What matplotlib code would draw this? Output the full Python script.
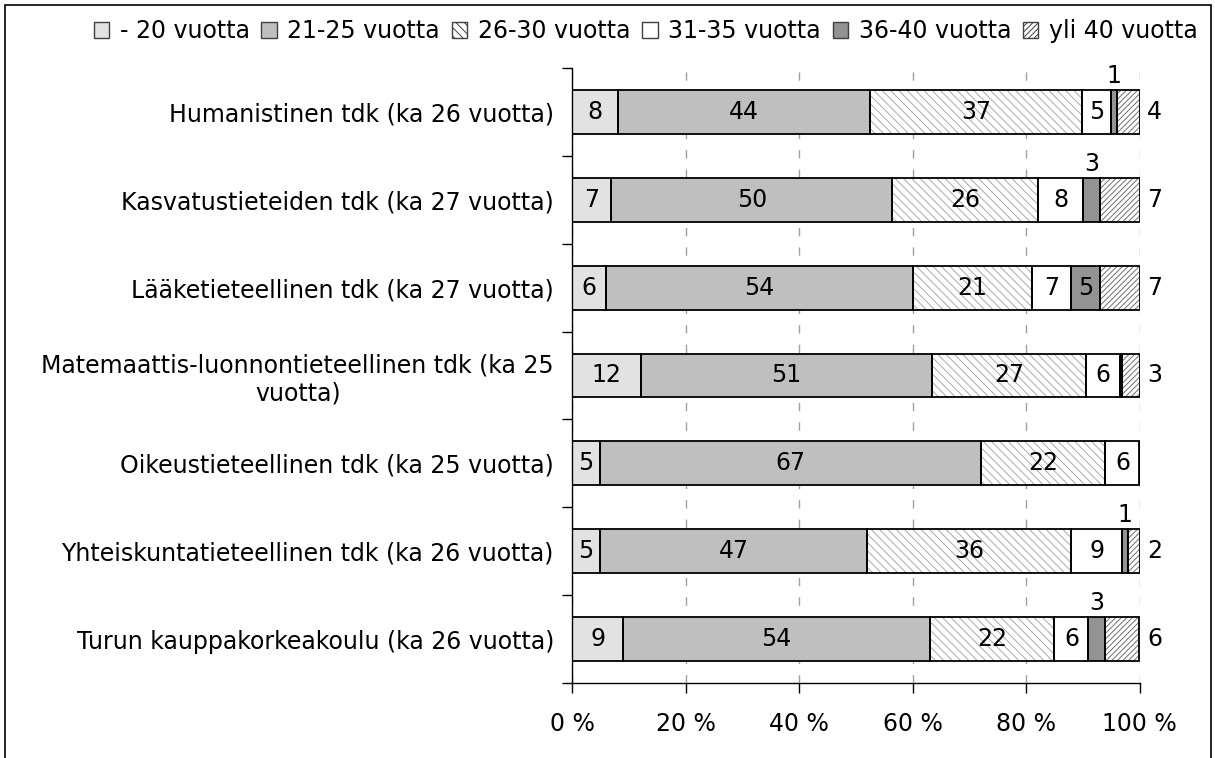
import matplotlib
matplotlib.use("Agg")
import matplotlib.pyplot as plt
from matplotlib.patches import Patch, Rectangle
import numpy as np

categories = [
    "Humanistinen tdk (ka 26 vuotta)",
    "Kasvatustieteiden tdk (ka 27 vuotta)",
    "Lääketieteellinen tdk (ka 27 vuotta)",
    "Matemaattis-luonnontieteellinen tdk (ka 25\nvuotta)",
    "Oikeustieteellinen tdk (ka 25 vuotta)",
    "Yhteiskuntatieteellinen tdk (ka 26 vuotta)",
    "Turun kauppakorkeakoulu (ka 26 vuotta)",
]
series_names = ["- 20 vuotta", "21-25 vuotta", "26-30 vuotta",
                "31-35 vuotta", "36-40 vuotta", "yli 40 vuotta"]

v_20 = [8, 7, 6, 12, 5, 5, 9]
v_21_25 = [44, 50, 54, 51, 67, 47, 54]
v_26_30 = [37, 26, 21, 27, 22, 36, 22]
v_31_35 = [5, 8, 7, 6, 6, 9, 6]
v_36_40 = [1, 3, 5, 0.4, 0, 1, 3]
v_yli40 = [4, 7, 7, 3, 0, 2, 6]

x_ticks = [0, 20, 40, 60, 80, 100]
x_ticklabels = ["0 %", "20 %", "40 %", "60 %", "80 %", "100 %"]

# styles: facecolor, hatch, hatch colour
styles = [
    ("#e2e2e2", None, None),
    ("#bfbfbf", None, None),
    ("white", "\\\\\\\\", "#a8a8a8"),
    ("white", None, None),
    ("#939393", None, None),
    ("white", "//////", "#6e6e6e"),
]

plt.rcParams["font.family"] = "DejaVu Sans"
plt.rcParams["hatch.linewidth"] = 0.7
FS = 17

data = np.array([v_20, v_21_25, v_26_30, v_31_35, v_36_40, v_yli40], dtype=float)
pct = data / data.sum(axis=0) * 100

fig = plt.figure(figsize=(12.15, 7.58), dpi=100)
ax = fig.add_axes([572 / 1215, 1 - 683 / 758, 567.5 / 1215, (683 - 68) / 758])

y = np.arange(len(categories))
left = np.zeros(len(categories))
for k in range(len(series_names)):
    fc, hatch, hc = styles[k]
    ax.barh(y, pct[k], left=left, height=0.5, color=fc,
            edgecolor=hc if hatch else fc, hatch=hatch, linewidth=0, zorder=2)
    ax.barh(y, pct[k], left=left, height=0.5, fill=False,
            edgecolor="black", linewidth=1.3, zorder=3)
    for i in range(len(categories)):
        w = pct[k][i]
        lab = int(round(data[k][i]))
        if lab < 1:
            continue
        if k == len(series_names) - 1:
            ax.text(101.3, i, str(lab), ha="left", va="center", fontsize=FS, zorder=4)
        elif w < 4:
            ax.text(left[i] + w / 2, i - 0.27, str(lab), ha="center", va="bottom",
                    fontsize=FS, zorder=4)
        else:
            ax.text(left[i] + w / 2, i, str(lab), ha="center", va="center",
                    fontsize=FS, zorder=4)
    left += pct[k]

ax.set_xlim(0, 100)
ax.set_ylim(len(categories) - 0.5, -0.5)
ax.set_xticks(x_ticks)
ax.set_xticklabels(x_ticklabels, fontsize=FS)
ax.set_yticks(y)
ax.set_yticklabels(categories, fontsize=FS, multialignment="center")
ax.set_yticks(np.arange(-0.5, len(categories), 1), minor=True)
ax.tick_params(axis="y", which="major", length=0, pad=13)
ax.tick_params(axis="y", which="minor", length=7, width=1, direction="out")
ax.tick_params(axis="x", length=7, width=1, pad=14)
for s in ["top", "right"]:
    ax.spines[s].set_visible(False)
for s in ["left", "bottom"]:
    ax.spines[s].set_linewidth(1)
ax.grid(axis="x", color="#a0a0a0", linestyle=(0, (6, 8)), linewidth=1, zorder=0)
ax.set_axisbelow(True)

handles = [Patch(facecolor=fc, edgecolor="#404040", hatch=h, linewidth=1)
           for fc, h, hc in styles]
fig.legend(handles, series_names, loc="center right",
           bbox_to_anchor=(1207 / 1215, 1 - 31 / 758), ncol=6, frameon=False,
           fontsize=FS, handlelength=0.65, handleheight=0.65, handletextpad=0.45,
           columnspacing=0.5, borderaxespad=0)

fig.patches.append(Rectangle((5 / 1215, -0.02), 1206 / 1215, 1.02 - 5 / 758,
                             transform=fig.transFigure, fill=False,
                             edgecolor="black", linewidth=1.2))

fig.savefig("out.png", dpi=100)
